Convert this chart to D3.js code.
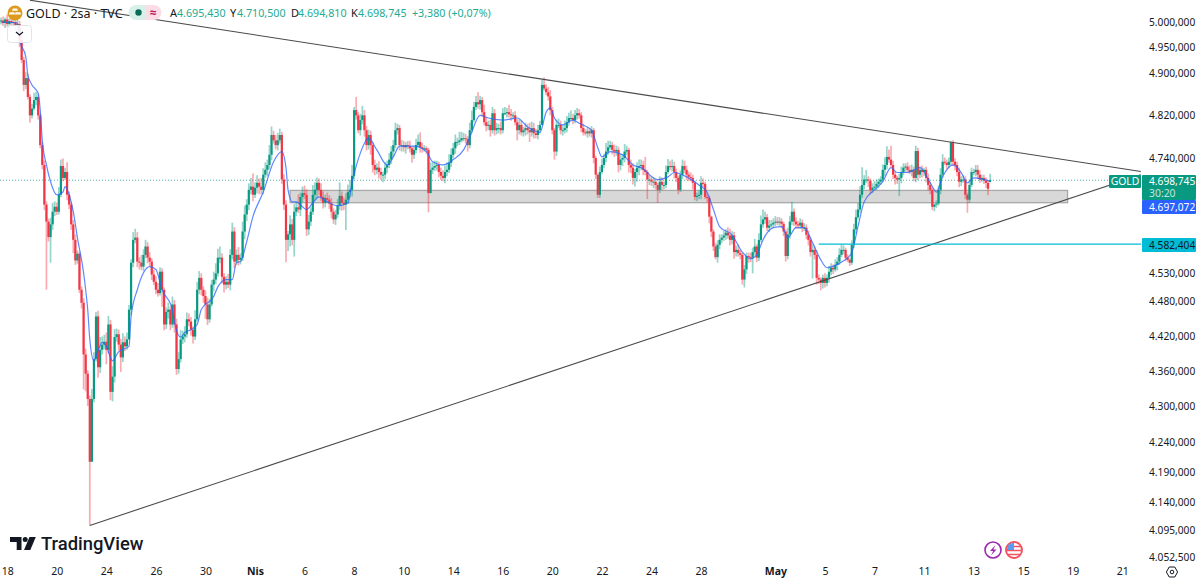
<!DOCTYPE html>
<html>
<head>
<meta charset="utf-8">
<title>GOLD 2h TVC</title>
<script src="https://cdnjs.cloudflare.com/ajax/libs/d3/7.8.5/d3.min.js"></script>
<style>
  html, body { margin: 0; padding: 0; background: #fff; }
  svg { display: block; }
  text { font-family: "Noto Sans", "Open Sans", sans-serif; }
</style>
</head>
<body>
<svg id="chart" width="1200" height="579"></svg>
<script>
// Two-hour closes, ten bars per row. Each bar opens at the previous close.
const closes = [
  5003,4998,5005,4996,5002,4998,5000,4992,4996,4965,
  4926,4878,4891,4855,4820,4833,4849,4855,4820,4764,
  4727,4654,4623,4595,4618,4641,4650,4641,4672,4725,
  4703,4714,4672,4654,4618,4590,4553,4565,4501,4478,
  4388,4355,4312,4207,4312,4380,4454,4366,4396,4405,
  4410,4396,4440,4324,4350,4418,4423,4405,4383,4409,
  4402,4414,4466,4549,4590,4594,4551,4549,4542,4563,
  4578,4558,4551,4528,4515,4501,4495,4533,4501,4440,
  4462,4466,4440,4475,4440,4363,4380,4414,4419,4423,
  4449,4445,4431,4419,4449,4501,4522,4501,4490,4475,
  4449,4475,4510,4519,4530,4558,4558,4524,4510,4515,
  4510,4563,4605,4551,4563,4554,4558,4605,4636,4654,
  4681,4687,4672,4685,4694,4687,4681,4709,4718,4727,
  4746,4783,4773,4764,4773,4783,4700,4654,4590,4600,
  4618,4590,4641,4649,4645,4668,4675,4672,4609,4623,
  4641,4672,4681,4694,4681,4668,4657,4666,4663,4656,
  4641,4627,4636,4652,4670,4657,4654,4663,4677,4681,
  4707,4830,4820,4792,4811,4820,4792,4764,4783,4764,
  4727,4718,4722,4714,4709,4709,4722,4727,4737,4752,
  4764,4792,4796,4764,4764,4760,4764,4762,4758,4746,
  4755,4764,4770,4760,4758,4758,4755,4675,4718,4722,
  4725,4727,4714,4707,4703,4714,4718,4731,4746,4758,
  4770,4770,4773,4777,4777,4775,4764,4792,4811,4836,
  4845,4841,4849,4826,4807,4800,4802,4792,4824,4792,
  4796,4796,4792,4824,4824,4826,4822,4820,4820,4807,
  4792,4802,4788,4792,4796,4792,4788,4796,4786,4783,
  4792,4802,4878,4871,4864,4856,4830,4792,4752,4802,
  4802,4792,4792,4796,4807,4815,4815,4811,4820,4824,
  4820,4796,4788,4786,4790,4786,4792,4740,4709,4672,
  4714,4727,4740,4752,4760,4764,4755,4752,4755,4727,
  4737,4740,4752,4755,4727,4722,4703,4714,4722,4725,
  4727,4718,4714,4700,4700,4696,4696,4690,4681,4696,
  4690,4690,4714,4725,4723,4725,4714,4703,4681,4709,
  4725,4718,4709,4705,4703,4694,4668,4670,4672,4694,
  4692,4668,4666,4632,4605,4578,4559,4581,4590,4594,
  4598,4603,4598,4590,4598,4568,4572,4566,4563,4519,
  4537,4561,4559,4558,4568,4578,4558,4590,4618,4627,
  4631,4612,4616,4618,4621,4623,4621,4623,4619,4605,
  4561,4600,4623,4641,4623,4618,4616,4621,4612,4612,
  4599,4590,4568,4572,4563,4522,4519,4513,4522,4513,
  4522,4533,4540,4537,4545,4551,4563,4572,4572,4558,
  4554,4549,4581,4609,4631,4645,4672,4690,4700,4700,
  4698,4681,4685,4687,4692,4696,4700,4718,4727,4742,
  4737,4727,4709,4703,4700,4703,4714,4722,4724,4718,
  4714,4718,4703,4753,4709,4718,4714,4718,4703,4690,
  4681,4650,4654,4656,4681,4709,4733,4731,4727,4733,
  4769,4733,4727,4714,4696,4700,4700,4672,4663,4690,
  4714,4714,4718,4709,4700,4703,4698,4694,4683,4698.745
];

// Distance of each high above the top of its body, in price points.
const upperWicks = [
  6,8,4,10,5,7,6,9,8,6,
  10,6,12,8,5,9,14,10,6,4,
  5,8,6,5,12,16,10,8,14,12,
  14,8,18,6,4,8,10,6,4,6,
  8,10,6,6,17,12,8,10,22,14,
  12,16,15,8,18,14,10,8,10,16,
  10,12,8,6,14,16,10,8,14,10,
  12,8,10,6,8,10,12,8,6,4,
  8,12,6,14,8,10,12,16,10,14,
  12,10,8,6,16,14,12,8,6,10,
  12,10,8,14,18,16,20,8,6,10,
  14,10,16,8,10,14,8,18,16,10,
  12,16,24,10,14,8,16,12,14,10,
  18,16,8,10,14,12,6,10,8,6,
  16,10,14,10,24,8,12,14,10,12,
  8,18,14,10,8,12,10,6,10,8,
  10,6,8,12,25,8,10,12,14,18,
  20,6,25,6,12,18,10,8,10,8,
  6,10,8,12,8,6,10,8,12,10,
  10,14,8,6,10,8,6,8,10,4,
  8,12,14,18,8,6,4,4,14,10,
  10,8,6,8,10,12,14,16,12,10,
  14,8,16,12,10,8,6,14,18,10,
  12,19,8,6,14,10,8,10,12,8,
  10,8,12,10,12,8,14,10,6,8,
  6,10,8,6,10,8,14,12,10,8,
  10,8,10,14,8,10,12,6,4,10,
  12,8,10,14,12,10,14,8,10,10,
  8,6,8,6,8,6,8,4,4,2,
  10,12,8,16,12,8,6,10,8,6,
  10,8,14,8,4,10,8,6,10,12,
  10,8,24,4,8,6,8,6,4,10,
  8,6,12,13,10,12,8,6,4,8,
  12,10,8,6,8,6,4,6,8,12,
  8,4,6,4,2,4,6,8,10,6,
  8,6,10,12,8,6,8,10,6,4,
  8,6,6,8,8,14,4,12,16,18,
  10,6,10,8,8,10,8,8,6,4,
  4,12,10,18,6,8,6,8,6,8,
  6,8,4,10,6,8,6,4,6,8,
  6,10,8,6,10,8,12,10,8,4,
  6,4,8,10,14,12,16,33,8,18,
  6,4,8,10,8,6,6,10,14,20,
  14,26,8,6,4,8,10,8,6,8,
  8,10,6,10,6,6,8,4,6,8,
  6,4,2,6,8,12,14,8,6,8,
  2,4,6,6,8,6,8,6,4,10,
  8,6,9,9,8,6,6,6,4,11.755
];

// Distance of each low below the bottom of its body, in price points.
const lowerWicks = [
  8,6,10,5,8,6,7,10,8,14,
  6,12,8,5,14,6,4,10,8,6,
  8,10,122,8,46,10,8,6,5,4,
  6,4,10,8,10,24,8,6,6,10,
  60,30,12,104,0,6,4,18,10,8,
  8,25,6,14,16,10,8,10,25,8,
  8,6,0,10,8,6,10,12,6,8,
  6,10,8,10,6,8,6,4,30,10,
  8,12,10,6,14,10,8,6,8,10,
  6,8,10,12,6,4,8,10,12,25,
  10,6,4,12,8,6,10,12,14,8,
  6,10,8,12,6,10,8,6,14,12,
  10,8,12,6,10,14,8,8,6,12,
  8,10,6,8,10,6,8,10,40,20,
  22,10,30,8,6,12,10,8,12,10,
  8,6,10,16,10,8,10,8,6,10,
  12,8,10,6,8,14,10,46,8,10,
  12,6,8,6,10,8,12,10,8,18,
  14,10,8,12,10,14,8,10,6,8,
  10,6,8,10,12,8,12,6,8,15,
  8,6,4,10,8,6,8,35,0,8,
  6,8,10,8,6,10,8,6,8,6,
  10,8,6,4,6,8,12,6,4,4,
  6,8,10,8,6,10,8,12,6,10,
  8,10,8,6,4,8,6,10,8,6,
  19,8,6,8,10,8,18,8,10,6,
  8,6,0,4,6,8,10,8,15,8,
  6,8,10,6,8,6,4,8,6,8,
  6,8,6,4,8,6,8,10,8,6,
  6,4,6,8,6,4,8,10,8,14,
  10,12,8,6,14,10,12,16,18,14,
  8,10,6,36,10,8,12,8,24,6,
  10,8,6,4,6,8,12,8,8,4,
  8,6,10,8,6,12,6,8,6,8,
  6,4,8,12,10,8,4,10,8,6,
  6,8,6,10,8,12,8,6,8,9,
  14,8,10,8,28,6,8,6,4,6,
  8,6,8,4,6,6,4,6,8,8,
  10,6,8,6,8,8,6,6,8,6,
  8,10,8,47,8,12,8,13,10,8,
  6,8,6,8,4,10,6,4,8,6,
  4,6,4,6,8,4,6,6,8,6,
  12,8,6,4,6,8,6,4,12,8,
  6,4,8,12,8,30,10,6,8,6,
  4,8,6,8,10,6,10,8,8,10,
  8,6,8,6,4,8,6,4,8,6,
  6,8,10,8,10,8,6,8,24,6,
  4,6,8,8,6,4,6,10,12,0.62
];

// Moving average, sampled along the series.
const maBars = [0,8,9,12,13,15,18,19,20,22,24,27,30,31,33,35,37,40,41,42,43,45,46,49,51,54,57,62,63,66,69,72,75,78,83,84,87,89,92,95,97,103,105,109,112,114,116,119,122,127,132,136,138,139,141,143,148,151,154,158,163,168,170,174,178,182,187,190,193,200,206,209,214,219,224,227,232,236,243,250,255,261,264,266,268,272,277,280,286,289,291,295,301,306,310,318,323,326,332,338,342,345,348,354,359,363,366,369,374,378,381,385,389,393,397,400,405,410,412,415,418,423,427,431,434,439,445,450,453,456,461,465,468,471,476,479];
const maValues = [5000,4998,4965,4932,4897,4878,4862,4830,4773,4727,4696,4672,4677,4687,4672,4641,4594,4531,4501,4466,4414,4377,4385,4409,4402,4377,4393,4402,4454,4501,4531,4542,4537,4501,4466,4444,4418,4426,4431,4440,4466,4489,4506,4519,4519,4549,4551,4587,4632,4677,4733,4752,4722,4681,4659,4659,4645,4657,4668,4659,4652,4657,4694,4749,4777,4755,4727,4742,4762,4762,4752,4733,4727,4737,4755,4779,4820,4815,4811,4815,4798,4788,4826,4834,4815,4802,4811,4805,4792,4759,4742,4752,4746,4727,4722,4700,4705,4713,4705,4690,4676,4645,4614,4599,4568,4556,4563,4590,4612,4614,4594,4612,4612,4585,4554,4540,4546,4558,4567,4614,4659,4681,4696,4722,4713,4713,4722,4694,4677,4705,4727,4713,4694,4703,4700,4697.072];

const lastOpen = 4695.43;
const lastClose = 4698.745;
const maLast = 4697.072;
const alertPrice = 4582.404;
const supportZone = { bars: [140, 516.5], prices: [4680, 4657.5] };
const alertStartBar = 396;
const upperTrend = [{ bar: 14, price: 5043 }, { bar: 552, price: 4715 }];
const lowerTrend = [{ bar: 43, price: 4103 }, { bar: 552, price: 4709 }];

const priceTicks = [5000, 4950, 4900, 4820, 4740, 4530, 4480, 4420, 4360, 4300, 4240, 4190, 4140, 4095, 4052.5];
const timeLabels = ["18","20","24","26","30","Nis","6","8","10","14","16","20","22","24","28","May","5","7","11","13","15","19","21"];
const timeBars = [3,27,51,75,99,123,147,171,195,219,243,267,291,315,339,375,399,423,447,471,495,519,543];
const boldLabels = ["Nis", "May"];

const GREEN = "#089981", RED = "#f23645", BLUE = "#2962ff", CYAN = "#00bcd4", INK = "#131722", VALUE = "#22ab94";

const svg = d3.select("#chart");
const fmt = d3.formatLocale({ decimal: ",", thousands: ".", grouping: [3], currency: ["", ""] }).format(",.3f");

const x = d3.scaleLinear().domain([0, 550]).range([1, 1 + 550 * 2.065]);
const y = d3.scaleLog().domain([5000, 4052.5]).range([22, 557]);

// OHLC rows assembled from the closes and the wick lengths.
const bars = closes.map((c, i) => {
  const o = i === closes.length - 1 ? lastOpen : (i ? closes[i - 1] : c);
  return {
    i, o, c,
    h: Math.max(o, c) + upperWicks[i],
    l: Math.min(o, c) - lowerWicks[i]
  };
});

// Last-price guide
svg.append("line")
  .attr("x1", 0).attr("x2", 1141)
  .attr("y1", y(lastClose)).attr("y2", y(lastClose))
  .attr("stroke", GREEN).attr("stroke-opacity", 0.7)
  .attr("stroke-width", 1).attr("stroke-dasharray", "1 2");

// Support zone sits behind the candles' bodies but shows through the wicks
svg.append("rect")
  .attr("x", x(supportZone.bars[0]))
  .attr("width", x(supportZone.bars[1]) - x(supportZone.bars[0]))
  .attr("y", y(supportZone.prices[0]))
  .attr("height", y(supportZone.prices[1]) - y(supportZone.prices[0]))
  .attr("fill", "#d8d8d8")
  .attr("stroke", "#a8a8a8").attr("stroke-width", 1.3);

// Candles
const candles = svg.append("g").attr("class", "candles");
candles.selectAll("line.wick").data(bars).join("line")
  .attr("class", "wick")
  .attr("x1", d => x(d.i)).attr("x2", d => x(d.i))
  .attr("y1", d => y(d.h)).attr("y2", d => y(d.l))
  .attr("stroke", d => d.c >= d.o ? GREEN : RED)
  .attr("stroke-opacity", 0.42)
  .attr("stroke-width", 1.7);
candles.selectAll("rect.body").data(bars).join("rect")
  .attr("class", "body")
  .attr("x", d => x(d.i) - 1.1)
  .attr("width", 2.2)
  .attr("y", d => Math.min(y(d.o), y(d.c)))
  .attr("height", d => Math.max(1, Math.abs(y(d.o) - y(d.c))))
  .attr("fill", d => d.c >= d.o ? GREEN : RED);

// Moving average
const maLine = d3.line()
  .x(d => x(d.bar)).y(d => y(d.value))
  .curve(d3.curveMonotoneX);
svg.append("path")
  .datum(maBars.map((bar, k) => ({ bar, value: maValues[k] })))
  .attr("d", maLine)
  .attr("fill", "none")
  .attr("stroke", BLUE).attr("stroke-opacity", 0.75).attr("stroke-width", 1.2);

// Converging trendlines
const trend = d3.line().x(d => x(d.bar)).y(d => y(d.price));
[upperTrend, lowerTrend].forEach(points => {
  svg.append("path").attr("d", trend(points))
    .attr("fill", "none").attr("stroke", "#4a4a4a").attr("stroke-width", 1.1);
});

// Alert level
svg.append("line")
  .attr("x1", x(alertStartBar)).attr("x2", 1141)
  .attr("y1", y(alertPrice)).attr("y2", y(alertPrice))
  .attr("stroke", CYAN).attr("stroke-width", 1.4);

// Cover the plot edge so lines stop at the price scale
svg.append("rect").attr("x", 1141).attr("y", 0).attr("width", 59).attr("height", 579).attr("fill", "#fff");

// Axes
const rightAxis = d3.axisRight(y).tickValues(priceTicks).tickFormat(fmt).tickSize(0).tickPadding(0);
const gy = svg.append("g").attr("transform", "translate(1149,0)").call(rightAxis);
gy.select(".domain").remove();
gy.selectAll("text").attr("font-size", 10.2).attr("fill", INK).style("font-family", '"Noto Sans", sans-serif');

const bottomAxis = d3.axisBottom(x).tickValues(timeBars)
  .tickFormat((d, k) => timeLabels[k]).tickSize(0).tickPadding(0);
const gx = svg.append("g").attr("transform", "translate(0,568)").call(bottomAxis);
gx.select(".domain").remove();
gx.selectAll("text")
  .attr("font-size", 10.5).attr("fill", INK)
  .attr("font-weight", (d, k) => boldLabels.includes(timeLabels[k]) ? 700 : 400)
  .style("font-family", '"Noto Sans", sans-serif');

// Price tags on the scale
function tag(px, py, w, h, fill) {
  svg.append("rect").attr("x", px).attr("y", py).attr("width", w).attr("height", h).attr("rx", 1).attr("fill", fill);
}
function label(str, px, py, size, fill, opts = {}) {
  return svg.append("text").attr("x", px).attr("y", py).attr("font-size", size).attr("fill", fill)
    .attr("font-weight", opts.weight || 400).attr("text-anchor", opts.anchor || "start")
    .text(str);
}
tag(1109, 175, 32, 13, GREEN);
label("GOLD", 1125, 185.2, 10.4, "#fff", { anchor: "middle" });
tag(1142, 175, 54, 25, GREEN);
label(fmt(lastClose), 1149, 185.2, 10.2, "#fff");
label("30:20", 1149, 196.8, 10.4, "#c3e6df");
tag(1142, 200, 54, 14, BLUE);
label(fmt(maLast), 1149, 210.8, 10.2, "#fff");
tag(1142, 238, 54, 14, CYAN);
label(fmt(alertPrice), 1149, 248.8, 10.2, INK);

// Symbol header
const head = svg.append("g");
head.append("circle").attr("cx", 15).attr("cy", 13).attr("r", 7.5).attr("fill", "#dd9a1c");
head.append("path").attr("d", "M12.8 8.6h4.4l.8 2.2h-6z M9.6 12.2h4.8l.7 2.4h-6.2z M15.6 12.2h4.8l.7 2.4h-6.2z")
  .attr("fill", "#fff").attr("opacity", 0.95);
label("GOLD · 2sa · TVC", 26, 17.5, 12.5, INK);

head.append("path").attr("d", "M136 5h10v15h-10a7.5 7.5 0 0 1 0-15z").attr("fill", "#d8f0ea");
head.append("path").attr("d", "M146 5h8a7.5 7.5 0 0 1 0 15h-8z").attr("fill", "#fbdde7");
head.append("circle").attr("cx", 138.5).attr("cy", 12.5).attr("r", 3.2).attr("fill", "#0b6b58");
label("≈", 153.5, 17, 12, "#c2185b", { anchor: "middle", weight: 700 });

const readoutKeys = ["A", "Y", "D", "K"];
const readoutValues = [4695.43, 4710.5, 4694.81, 4698.745];
const readoutX = [170, 230, 291, 351];
readoutKeys.forEach((k, idx) => {
  label(k, readoutX[idx], 17, 11, INK);
  label(fmt(readoutValues[idx]), readoutX[idx] + 7, 17, 10.7, VALUE);
});
label("+3,380 (+0,07%)", 412, 17, 10.7, VALUE);

// Collapse control
svg.append("rect").attr("x", 7.5).attr("y", 25.5).attr("width", 24).attr("height", 17).attr("rx", 3)
  .attr("fill", "#fff").attr("fill-opacity", 0.88).attr("stroke", "#e0e3eb");
svg.append("path").attr("d", "M16 32l3.5 3 3.5-3").attr("fill", "none").attr("stroke", INK).attr("stroke-width", 1.2);

// Wordmark
const mark = svg.append("g").attr("transform", "translate(10,537)").attr("fill", "#131722");
mark.append("path").attr("d", "M0 0h11.5v13h-4.8v-8h-6.7z");
mark.append("circle").attr("cx", 15.2).attr("cy", 2.5).attr("r", 2.5);
mark.append("path").attr("d", "M19.5 0h6.3l-5.5 13h-6.3z");
label("TradingView", 41, 550, 18.4, "#131722", { weight: 500 }).style("font-family", "Roboto, sans-serif");

// Event markers
const events = svg.append("g");
events.append("circle").attr("cx", 993).attr("cy", 550).attr("r", 8).attr("fill", "#fff").attr("stroke", "#9c27b0").attr("stroke-width", 1.6);
events.append("path").attr("d", "M995.5 545l-5.5 6h3.2l-2.2 4.5 5.5-6h-3.2z").attr("fill", "#9c27b0");
events.append("circle").attr("cx", 1014).attr("cy", 550).attr("r", 8).attr("fill", "#fff").attr("stroke", "#f4525f").attr("stroke-width", 1.9);
events.append("path").attr("d", "M1007 546.5h14 M1006.5 550.5h15 M1008 554.5h12").attr("stroke", "#f4525f").attr("stroke-width", 1.7);
events.append("path").attr("d", "M1008.4 545a7 7 0 0 1 5.6-2v7h-7a7 7 0 0 1 1.4-5z").attr("fill", "#5b9bf0");

// Scale settings icon
const gear = svg.append("g").attr("transform", "translate(1172,572)").attr("fill", "none").attr("stroke", INK).attr("stroke-width", 1);
gear.append("path").attr("d", "M-2.8 -5h5.6l2.8 5-2.8 5h-5.6l-2.8-5z");
gear.append("circle").attr("r", 1.8);
</script>
</body>
</html>
